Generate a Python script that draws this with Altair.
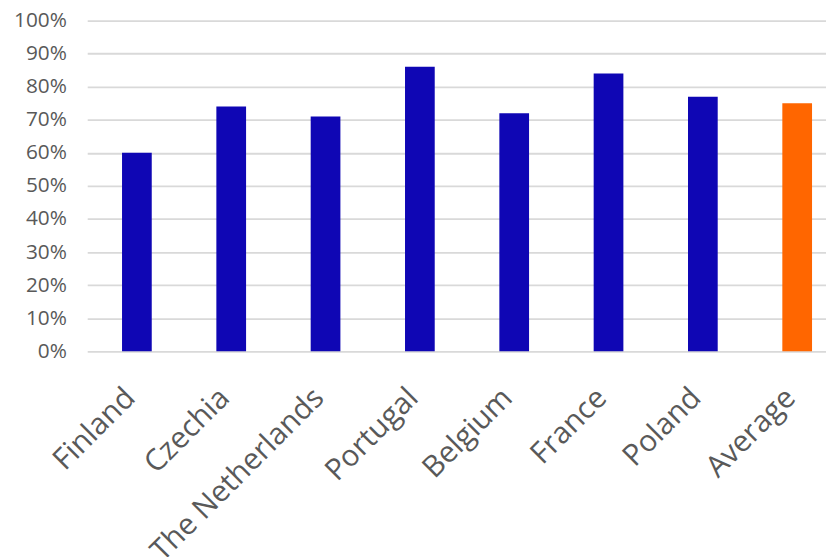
import altair as alt
import pandas as pd

countries = ["Finland", "Czechia", "The Netherlands", "Portugal", "Belgium", "France", "Poland", "Average"]
values = [0.60, 0.74, 0.71, 0.86, 0.72, 0.84, 0.77, 0.75]
groups = ["country"] * 7 + ["average"]
y_ticks = [0.0, 0.1, 0.2, 0.3, 0.4, 0.5, 0.6, 0.7, 0.8, 0.9, 1.0]

df = pd.DataFrame({
    "idx": list(range(len(countries))),
    "country": countries,
    "value": values,
    "group": groups,
})

W = 746
H = 334

label_expr = "[" + ",".join("'%s'" % c for c in countries) + "][datum.value]"

chart = alt.Chart(df).mark_bar(size=30).encode(
    x=alt.X("idx:Q", title=None,
            scale=alt.Scale(domain=[-0.474, 7.253], nice=False, zero=False),
            axis=alt.Axis(values=list(range(len(countries))), labelExpr=label_expr,
                          labelAngle=-45, labelFontSize=30, labelColor="#595959",
                          labelFont="Open Sans", ticks=False, domain=False, grid=False,
                          labelPadding=42, labelOffset=-7, labelAlign="right",
                          labelBaseline="middle",
                          labelOverlap=False, labelLimit=400, labelFlush=False)),
    y=alt.Y("value:Q", title=None,
            scale=alt.Scale(domain=[0, 1], nice=False),
            axis=alt.Axis(format=".0%", values=y_ticks,
                          labelFontSize=21, labelColor="#595959", labelFont="Open Sans",
                          ticks=False, domain=False, labelPadding=21,
                          grid=True, gridColor="#D9D9D9", gridWidth=1.8)),
    color=alt.Color("group:N", scale=alt.Scale(domain=["country", "average"],
                                              range=["#0F06B4", "#FF6600"]), legend=None),
    tooltip=["country", "value"],
).properties(
    width=W, height=H,
    autosize=alt.AutoSizeParams(type="none"),
    padding={"left": 80, "top": 10, "right": 0, "bottom": 205},
).configure_view(stroke=None)

chart.save("out.html", embed_options={"renderer": "svg", "actions": False})
